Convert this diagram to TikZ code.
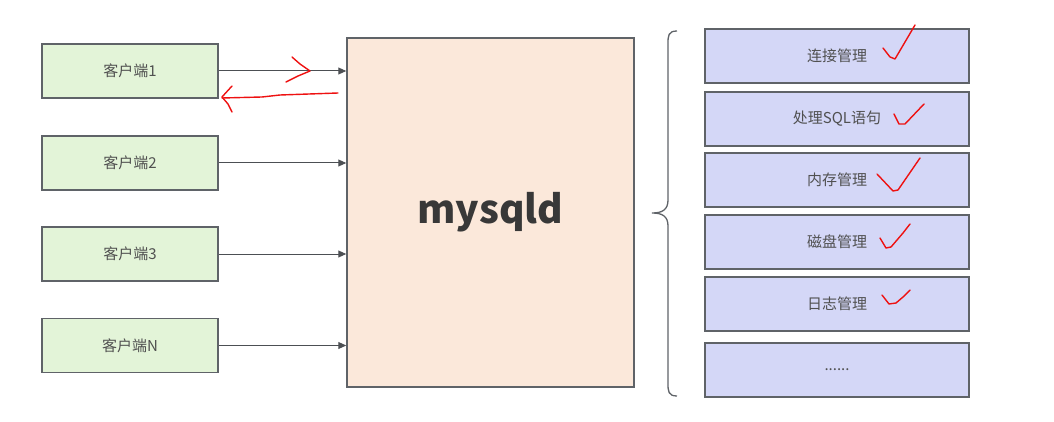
\documentclass[tikz,border=0pt]{standalone}
\usepackage{fontspec}
\setmainfont{Noto Sans CJK SC}
\usetikzlibrary{arrows.meta}
\definecolor{edge}{HTML}{5F6368}
\definecolor{greenfill}{HTML}{E3F4D8}
\definecolor{peach}{HTML}{FBE8DA}
\definecolor{lavender}{HTML}{D4D7F7}
\definecolor{txt}{HTML}{505050}
\definecolor{pen}{HTML}{EE1111}
\tikzset{
  box/.style={draw=edge, line width=1.5pt, inner sep=0pt, text=txt, font=\fontsize{15}{18}\selectfont},
  client/.style={box, fill=greenfill, minimum width=176pt, minimum height=54pt},
  func/.style={box, fill=lavender, minimum width=264pt, minimum height=54pt},
  conn/.style={draw=edge!80!black, line width=1pt, -{Triangle[length=8pt,width=7pt]}},
  redpen/.style={draw=pen, line width=1.4pt, line cap=round, line join=round},
}
\begin{document}
\begin{tikzpicture}[x=1pt,y=-1pt]
\useasboundingbox (0,0) rectangle (1054,422);
% clients
\node[client] (c1) at (130,71) {客户端1};
\node[client] (c2) at (130,163) {客户端2};
\node[client] (c3) at (130,254) {客户端3};
\node[client] (cN) at (130,345.5) {客户端N};
% server
\node[box, fill=peach, minimum width=287pt, minimum height=349pt, font=\fontsize{39}{44}\selectfont\bfseries, text=black!78] (m) at (490.5,212.5) {mysqld};
% arrows
\foreach \c in {c1,c2,c3,cN}{
  \draw[conn] (\c.east) -- (\c.east -| m.west);
}
% functions
\node[func] (f1) at (837,56) {连接管理};
\node[func] (f2) at (837,119) {处理SQL语句};
\node[func] (f3) at (837,180) {内存管理};
\node[func] (f4) at (837,242) {磁盘管理};
\node[func] (f5) at (837,304) {日志管理};
\node[func] (f6) at (837,370) {......};
% brace
\coordinate (bt) at (677,31);
\coordinate (bb) at (677,396);
\coordinate (bm) at (652,213);
\draw[edge, line width=1.3pt] (bt) .. controls (668,31) and (668,36) .. (668,44)
  -- (668,200) .. controls (668,210) and (662,213) .. (bm)
  .. controls (662,213) and (668,216) .. (668,226)
  -- (668,383) .. controls (668,391) and (668,396) .. (bb);
% red hand marks
\draw[redpen] (292,57) -- (300,64) -- (310,71) -- (298,76) -- (286,82);
\draw[redpen] (338,93) -- (280,95) -- (262,97) -- (222,98);
\draw[redpen] (232,86) -- (222,97) -- (228,104) -- (232,112);
\draw[redpen] (883,48) -- (890,57) -- (895,59) -- (905,42) -- (915,25);
\draw[redpen] (894,114) -- (899,124) -- (905,124) -- (924,104);
\draw[redpen] (877,174) -- (893,191) -- (898,190) -- (920,158);
\draw[redpen] (880,238) -- (886,248) -- (891,247) -- (903,233) -- (910,224);
\draw[redpen] (882,295) -- (889,304) -- (896,303) -- (903,297) -- (910,290);
\end{tikzpicture}
\end{document}
